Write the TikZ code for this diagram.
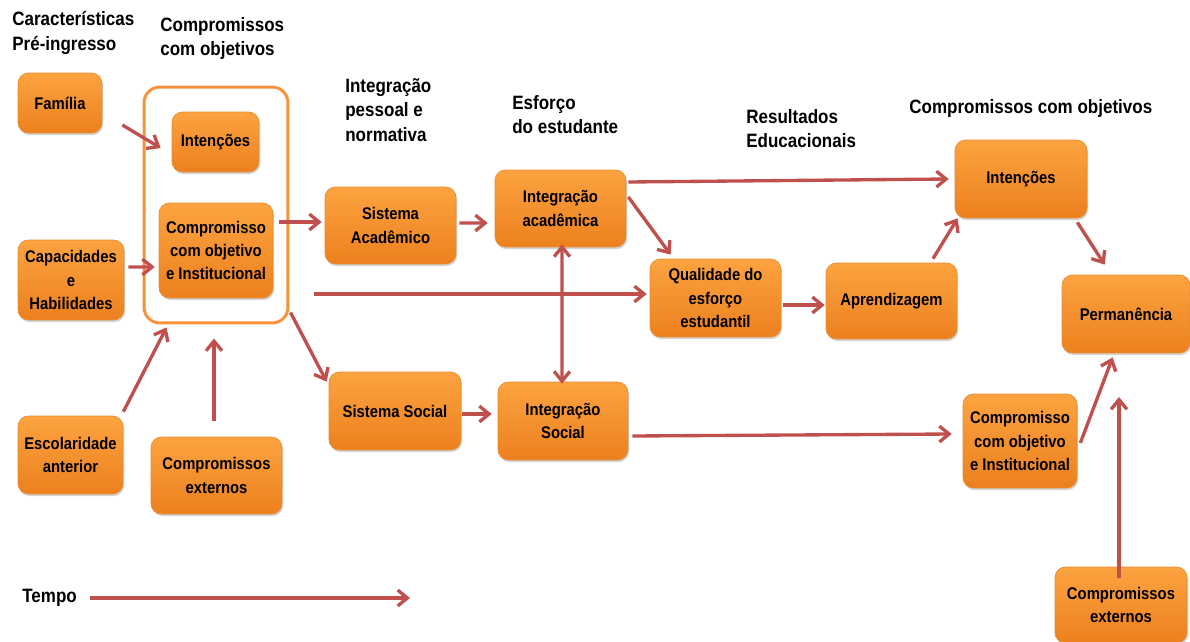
\documentclass[tikz,border=0pt]{standalone}
\usepackage{fontspec}
\setmainfont{Liberation Sans}[FakeStretch=0.88]
\usetikzlibrary{arrows.meta,shadows}

\definecolor{laranjaClaro}{RGB}{252,163,64}
\definecolor{laranjaEscuro}{RGB}{236,128,30}
\definecolor{bordaCaixa}{RGB}{232,140,50}
\definecolor{moldura}{RGB}{247,146,60}
\definecolor{vinho}{RGB}{192,80,77}

\tikzset{
  caixa/.style={rounded corners=6pt, top color=laranjaClaro, bottom color=laranjaEscuro,
    draw=bordaCaixa, thin, align=center, inner sep=1pt,
    font=\bfseries\fontsize{9.6}{13.2}\selectfont,
    drop shadow={shadow xshift=0.6pt, shadow yshift=-1.2pt, opacity=0.35}},
  titulo/.style={align=left, inner sep=0pt, font=\bfseries\fontsize{11}{14}\selectfont},
  ponta/.tip={Straight Barb[length=5.5pt, width=9pt, line width=1.9pt]},
  seta/.style={vinho, line width=1.9pt, -ponta},
}

\begin{document}
\begin{tikzpicture}[x=0.02cm, y=-0.02cm]
  \useasboundingbox (0,0) rectangle (1190,642);

  % titulos
  \node[titulo, anchor=north west] (tCaract) at (12,11) {Características\\Pré-ingresso};
  \node[titulo, anchor=north west] (tCompA) at (160,17) {Compromissos\\com objetivos};
  \node[titulo, anchor=north west] (tInteg) at (345,78) {Integração\\pessoal e\\normativa};
  \node[titulo, anchor=north west] (tEsforco) at (512,95) {Esforço\\do estudante};
  \node[titulo, anchor=north west] (tResult) at (746,109) {Resultados\\Educacionais};
  \node[titulo, anchor=north west] (tCompB) at (909,99) {Compromissos com objetivos};
  \node[titulo, anchor=west] (tempo) at (22,598) {Tempo};

  % moldura dos compromissos
  \node[draw=moldura, line width=1.7pt, rounded corners=9pt, minimum width=2.88cm,
    minimum height=4.72cm] (quadro) at (216,205) {};

  % caixas
  \node[caixa, minimum width=1.68cm, minimum height=1.2cm] (familia) at (60,103) {Família};
  \node[caixa, minimum width=2.12cm, minimum height=1.6cm] (capacidades) at (71,280) {Capacidades\\e\\Habilidades};
  \node[caixa, minimum width=2.1cm, minimum height=1.56cm] (escolaridade) at (70.5,455) {Escolaridade\\anterior};
  \node[caixa, minimum width=2.62cm, minimum height=1.54cm] (externosA) at (216.5,475.5) {Compromissos\\externos};
  \node[caixa, minimum width=1.74cm, minimum height=1.2cm] (intencoesA) at (215.5,142) {Intenções};
  \node[caixa, minimum width=2.28cm, minimum height=1.9cm] (compromissoA) at (216,250.5) {Compromisso\\com objetivo\\e Institucional};
  \node[caixa, minimum width=2.62cm, minimum height=1.54cm] (sisacad) at (390.5,225.5) {Sistema\\Acadêmico};
  \node[caixa, minimum width=2.62cm, minimum height=1.54cm] (intacad) at (560.5,208.5) {Integração\\acadêmica};
  \node[caixa, minimum width=2.64cm, minimum height=1.56cm] (sissocial) at (395,411) {Sistema Social};
  \node[caixa, minimum width=2.6cm, minimum height=1.56cm] (intsocial) at (563,421) {Integração\\Social};
  \node[caixa, minimum width=2.62cm, minimum height=1.56cm] (qualidade) at (715.5,298) {Qualidade do\\esforço\\estudantil};
  \node[caixa, minimum width=2.62cm, minimum height=1.52cm] (aprendizagem) at (891.5,301) {Aprendizagem};
  \node[caixa, minimum width=2.64cm, minimum height=1.56cm] (intencoesB) at (1021,179) {Intenções};
  \node[caixa, minimum width=2.56cm, minimum height=1.56cm] (permanencia) at (1126,314) {Permanência};
  \node[caixa, minimum width=2.28cm, minimum height=1.88cm] (compromissoB) at (1020,441) {Compromisso\\com objetivo\\e Institucional};
  \node[caixa, minimum width=2.64cm, minimum height=1.52cm] (externosB) at (1121,605) {Compromissos\\externos};

  \coordinate (topoB) at (1119,397);
  \coordinate (fimTempo) at (410,598);

  % setas
  \draw[seta] ([shift={(20,22)}]familia.east) -- ([shift={(-11,6)}]intencoesA.west);
  \draw[seta] ([shift={(4,-13)}]capacidades.east) -- ([shift={(-4,16.5)}]compromissoA.west);
  \draw[seta] ([shift={(0,-4)}]escolaridade.north east) -- ([shift={(24,3)}]quadro.south west);
  \draw[seta] ([shift={(-2.5,-16)}]externosA.north) -- ([shift={(-2,14)}]quadro.south);
  \draw[seta] ([shift={(6,-28.5)}]compromissoA.east) -- ([shift={(-3,-3.5)}]sisacad.west);
  \draw[seta] ([shift={(25,89)}]quadro.east) -- ([shift={(-3,-4)}]qualidade.west);
  \draw[seta] ([shift={(1,-12)}]quadro.south east) -- ([shift={(-2,10)}]sissocial.north west);
  \draw[seta] ([shift={(3,-2.5)}]sisacad.east) -- ([shift={(-7,14.5)}]intacad.west);
  \draw[seta] ([shift={(1,3)}]sissocial.east) -- ([shift={(-6,-7)}]intsocial.west);
  \draw[seta, ponta-ponta] ([shift={(1.5,-3)}]intacad.south) -- ([shift={(-1,2)}]intsocial.north);
  \draw[seta] ([shift={(2,-26.5)}]intacad.east) -- ([shift={(-6,0)}]intencoesB.west);
  \draw[seta] ([shift={(2,-11.5)}]intacad.east) -- ([shift={(21,-4)}]qualidade.north west);
  \draw[seta] ([shift={(2,7)}]qualidade.east) -- ([shift={(-1,4)}]aprendizagem.west);
  \draw[seta] ([shift={(41.5,-4)}]aprendizagem.north) -- ([shift={(3,0)}]intencoesB.south west);
  \draw[seta] ([shift={(-10,4)}]intencoesB.south east) -- ([shift={(43,-10)}]permanencia.north west);
  \draw[seta] ([shift={(4,15)}]intsocial.east) -- ([shift={(-11,-7)}]compromissoB.west);
  \draw[seta] ([shift={(3,2)}]compromissoB.east) -- ([shift={(51,4)}]permanencia.south west);
  \draw[seta] ([shift={(-2,11)}]externosB.north) -- (topoB);
  \draw[seta] ([shift={(13,0)}]tempo.east) -- (fimTempo);
\end{tikzpicture}
\end{document}
